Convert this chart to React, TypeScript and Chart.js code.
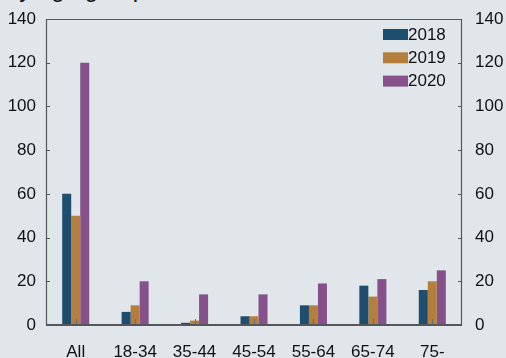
import React, { useEffect, useRef } from "react";
import { Chart, registerables } from "chart.js";

Chart.register(...registerables);

const categories = ["All", "18-34", "35-44", "45-54", "55-64", "65-74", "75-"];
const seriesLabels = ["2018", "2019", "2020"];
const values2018 = [60, 6, 1, 4, 9, 18, 16];
const values2019 = [50, 9, 2, 4, 9, 13, 20];
const values2020 = [120, 20, 14, 14, 19, 21, 25];
const seriesColors = ["#1d4e6d", "#b47f3d", "#86508a"];
const titleText = "by age group";
const yMin = 0;
const yMax = 140;
const yStep = 20;

const FONT = "'Liberation Sans', Arial, sans-serif";
const AXIS = "#54585c";

const framePlugin = {
  id: "frameTicks",
  afterDatasetsDraw(chart: any) {
    const { ctx, chartArea, scales } = chart;
    const { left, right, top, bottom } = chartArea;
    ctx.save();
    ctx.strokeStyle = AXIS;
    ctx.lineWidth = 1;
    scales.y.ticks.forEach((t: any) => {
      const py = Math.round(scales.y.getPixelForValue(t.value)) + 0.5;
      ctx.beginPath();
      ctx.moveTo(left, py);
      ctx.lineTo(left + 4, py);
      ctx.stroke();
    });
    scales.y2.ticks.forEach((t: any) => {
      const py = Math.round(scales.y2.getPixelForValue(t.value)) + 0.5;
      ctx.beginPath();
      ctx.moveTo(right - 4, py);
      ctx.lineTo(right, py);
      ctx.stroke();
    });
    ctx.strokeStyle = "#6a6e72";
    scales.x.ticks.forEach((_t: any, i: number) => {
      const px = Math.round(scales.x.getPixelForTick(i)) + 0.5;
      ctx.beginPath();
      ctx.moveTo(px, bottom);
      ctx.lineTo(px, bottom - 6);
      ctx.stroke();
    });
    ctx.strokeStyle = AXIS;
    ctx.lineWidth = 1.2;
    ctx.beginPath();
    ctx.moveTo(left + 0.5, bottom);
    ctx.lineTo(left + 0.5, top + 0.5);
    ctx.lineTo(right - 0.5, top + 0.5);
    ctx.lineTo(right - 0.5, bottom);
    ctx.stroke();
    ctx.lineWidth = 2;
    ctx.beginPath();
    ctx.moveTo(left, bottom);
    ctx.lineTo(right, bottom);
    ctx.stroke();
    ctx.restore();
  },
  afterDraw(chart: any) {
    const { ctx, chartArea } = chart;
    const bx = chartArea.right - 79;
    const by = chartArea.top + 10;
    ctx.save();
    ctx.font = `17px ${FONT}`;
    ctx.textBaseline = "middle";
    ctx.textAlign = "left";
    chart.data.datasets.forEach((ds: any, i: number) => {
      const y = by + i * 23.3;
      ctx.fillStyle = ds.backgroundColor;
      ctx.fillRect(bx, y, 25, 11);
      ctx.fillStyle = "#111";
      ctx.fillText(ds.label, bx + 25, y + 6);
    });
    ctx.restore();
  },
};

export default function App() {
  const ref = useRef<HTMLCanvasElement | null>(null);

  useEffect(() => {
    if (!ref.current) return;
    const datasets = [values2018, values2019, values2020].map((vals, i) => ({
      label: seriesLabels[i],
      data: vals,
      backgroundColor: seriesColors[i],
      borderWidth: 0,
      barPercentage: 1,
      categoryPercentage: 0.455,
      yAxisID: "y",
    }));
    const vFit = (w: number) => (s: any) => {
      s.width = w;
      s.paddingTop = 0;
      s.paddingBottom = 0;
    };
    const chart = new Chart(ref.current, {
      type: "bar",
      data: { labels: categories, datasets },
      options: {
        responsive: false,
        animation: false,
        layout: { padding: { top: 19, left: 0, right: 0, bottom: 0 } },
        plugins: {
          legend: { display: false },
          tooltip: { enabled: false },
          title: { display: false },
        },
        scales: {
          x: {
            grid: { display: false },
            border: { display: false },
            ticks: {
              color: "#111",
              font: { family: FONT, size: 17 },
              padding: 9,
              maxRotation: 0,
              autoSkip: false,
            },
            afterFit: (s: any) => {
              s.height = 33;
              s.paddingLeft = 0;
              s.paddingRight = 0;
            },
          },
          y: {
            position: "left",
            min: yMin,
            max: yMax,
            grid: { display: false, drawTicks: false },
            border: { display: false },
            ticks: {
              stepSize: yStep,
              color: "#111",
              font: { family: FONT, size: 17 },
              padding: 10,
            },
            afterFit: vFit(46),
          },
          y2: {
            position: "right",
            min: yMin,
            max: yMax,
            grid: { display: false, drawTicks: false },
            border: { display: false },
            ticks: {
              stepSize: yStep,
              color: "#111",
              font: { family: FONT, size: 17 },
              padding: 13,
            },
            afterFit: vFit(44),
          },
        },
      },
      plugins: [framePlugin],
    });
    return () => chart.destroy();
  }, []);

  return (
    <div
      style={{
        position: "fixed",
        left: 0,
        top: 0,
        width: 506,
        height: 358,
        background: "#e1e6ea",
        overflow: "hidden",
      }}
    >
      <div
        style={{
          position: "absolute",
          left: 6,
          top: -23,
          fontFamily: FONT,
          fontSize: 24,
          lineHeight: "24px",
          color: "#111",
          whiteSpace: "nowrap",
        }}
      >
        {titleText}
      </div>
      <canvas
        ref={ref}
        width={506}
        height={358}
        style={{ position: "absolute", left: 0, top: 0, width: 506, height: 358 }}
      />
    </div>
  );
}
